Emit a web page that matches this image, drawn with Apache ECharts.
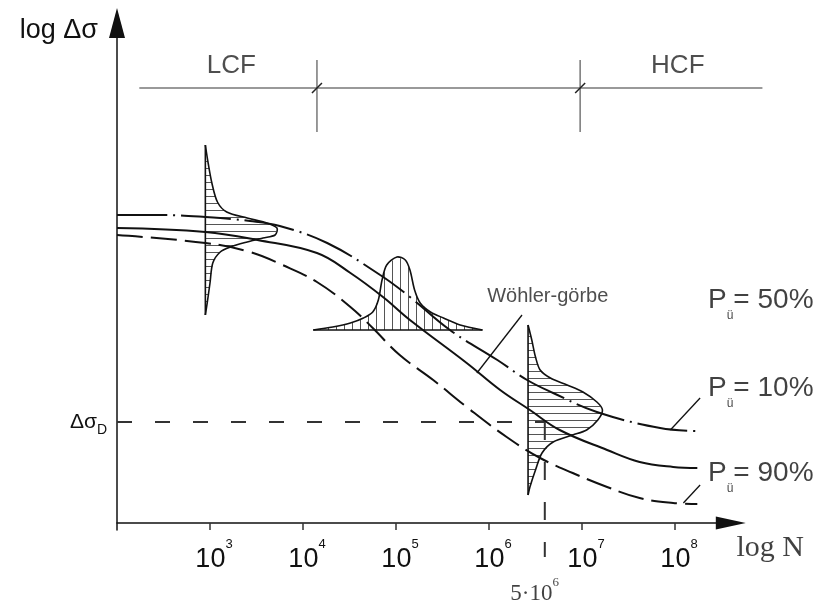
<!DOCTYPE html>
<html lang="hu">
<head>
  <meta charset="UTF-8" />
  <title>Wöhler-görbe</title>
  <script src="https://cdn.jsdelivr.net/npm/echarts@6.0.0/dist/echarts.min.js"></script>
  <style>
    body { margin: 0; background: #fff; overflow: hidden; }
    #main { width: 822px; height: 608px; }
  </style>
</head>
<body>
  <div id="main"></div>
  <script>
    const chart = echarts.init(document.getElementById('main'));

    // x = log N, y = log Δσ (schematic units)
    const decades = [3, 4, 5, 6, 7, 8];
    const exceedance = [50, 10, 90];

    const p10Curve = [[2.00, 6.16], [2.46, 6.16], [2.95, 6.12], [3.43, 6.04], [3.75, 5.94], [4.26, 5.60],
      [4.83, 4.96], [5.15, 4.52], [5.58, 3.86], [6.09, 3.26], [6.41, 2.86], [6.69, 2.60], [7.16, 2.22],
      [7.84, 1.90], [8.24, 1.84]];
    const p50Curve = [[2.00, 5.90], [2.95, 5.82], [3.51, 5.66], [4.15, 5.40], [4.51, 5.00], [4.86, 4.52],
      [5.15, 4.06], [5.76, 3.20], [6.12, 2.66], [6.44, 2.26], [6.76, 1.86], [7.27, 1.46], [7.62, 1.22],
      [7.98, 1.12], [8.24, 1.10]];
    const p90Curve = [[2.00, 5.76], [2.95, 5.60], [3.43, 5.42], [3.78, 5.16], [4.15, 4.82], [4.51, 4.32],
      [4.75, 3.90], [5.04, 3.36], [5.40, 2.86], [5.76, 2.32], [6.19, 1.72], [6.55, 1.30], [6.90, 1.00],
      [7.27, 0.72], [7.62, 0.50], [7.98, 0.40], [8.24, 0.38]];

    // scatter distributions (outline, baseline = first/last point)
    const distLow = [[2.95, 7.56], [2.98, 7.20], [3.02, 6.80], [3.08, 6.42], [3.18, 6.22], [3.40, 6.10],
      [3.61, 6.00], [3.72, 5.90], [3.70, 5.76], [3.57, 5.70], [3.40, 5.62], [3.22, 5.52], [3.11, 5.42],
      [3.03, 5.20], [3.00, 4.80], [2.97, 4.40], [2.95, 4.16]];
    const distMid = [[4.11, 3.86], [4.32, 3.92], [4.51, 4.00], [4.65, 4.10], [4.75, 4.22], [4.81, 4.46],
      [4.85, 4.86], [4.90, 5.16], [5.01, 5.32], [5.10, 5.26], [5.15, 5.06], [5.20, 4.66], [5.26, 4.40],
      [5.37, 4.22], [5.51, 4.10], [5.69, 3.96], [5.93, 3.86]];
    const distHigh = [[6.42, 3.96], [6.46, 3.66], [6.50, 3.32], [6.55, 3.06], [6.66, 2.90], [6.84, 2.76],
      [7.01, 2.62], [7.16, 2.42], [7.22, 2.26], [7.17, 2.06], [7.05, 1.86], [6.90, 1.76], [6.69, 1.62],
      [6.57, 1.40], [6.50, 1.06], [6.44, 0.72], [6.42, 0.56]];

    const enduranceLimit = 2.02;   // Δσ_D
    const kneeLogN = 6.60;         // 5·10^6 on the sketch
    const kneeLineBottom = -0.68;
    const regimeLine = [[2.24, 8.70], [8.94, 8.70]];
    const regimeBounds = [[4.15, 9.26, 7.82], [6.98, 9.26, 7.82]];
    const leaders = [
      [[5.87, 3.00], [6.355, 4.16]],
      [[7.95, 1.86], [8.27, 2.50]],
      [[8.09, 0.40], [8.27, 0.76]]
    ];

    // text anchors (data coords)
    const labelAnchors = {
      lcf: [3.23, 9.14], hcf: [8.03, 9.14], wohler: [5.98, 4.54],
      p: [[8.355, 4.46], [8.355, 2.70], [8.355, 1.00]],
      knee: [6.49, -1.42], logN: [8.66, -0.50]
    };

    const sans = '"Liberation Sans", Arial, sans-serif';
    const narrow = '"Liberation Sans Narrow", "Liberation Sans", Arial, sans-serif';
    const serif = '"Liberation Serif", "Times New Roman", serif';
    const ink = '#111';

    const rich = {
      reg: { fontSize: 26, fontFamily: sans, color: '#222' },
      w: { fontSize: 20, fontFamily: sans, color: '#222' },
      p: { fontSize: 28, fontFamily: sans, color: ink, lineHeight: 44 },
      s: { fontSize: 12, fontFamily: sans, color: ink, lineHeight: 12, verticalAlign: 'bottom' },
      n: { fontSize: 23, fontFamily: serif, color: ink, lineHeight: 36 },
      ns: { fontSize: 13, fontFamily: serif, color: ink, lineHeight: 13, verticalAlign: 'top' },
      ax: { fontSize: 30, fontFamily: serif, color: ink }
    };

    function hatch(vertical, step) {
      const c = document.createElement('canvas');
      c.width = vertical ? step : 4;
      c.height = vertical ? 4 : step;
      const ctx = c.getContext('2d');
      ctx.fillStyle = '#555';
      if (vertical) ctx.fillRect(0, 0, 1, 4);
      else ctx.fillRect(0, 0, 4, 1);
      return c;
    }

    function distSeries(points, pattern) {
      return {
        type: 'custom', data: points, silent: true, z: 3,
        renderItem: (params, api) => {
          if (params.dataIndex !== 0) return null;
          const pts = points.map(p => api.coord(p));
          const a = pts[0], b = pts[pts.length - 1];
          return {
            type: 'group',
            children: [
              { type: 'polygon', shape: { points: pts }, style: { fill: { image: pattern, repeat: 'repeat' }, stroke: null } },
              { type: 'polyline', shape: { points: pts, smooth: 0.3 }, style: { stroke: ink, lineWidth: 1.6, fill: null } },
              { type: 'line', shape: { x1: a[0], y1: a[1], x2: b[0], y2: b[1] }, style: { stroke: ink, lineWidth: 1.6 } }
            ]
          };
        }
      };
    }

    function curve(data, type) {
      return {
        type: 'line', data, smooth: 0.4, symbol: 'none', silent: true, z: 4,
        lineStyle: { color: ink, width: 2, type }
      };
    }

    const notes = [
      { value: labelAnchors.lcf, label: { formatter: '{reg|LCF}' } },
      { value: labelAnchors.hcf, label: { formatter: '{reg|HCF}' } },
      { value: labelAnchors.wohler, label: { formatter: '{w|Wöhler-görbe}', align: 'left' } },
      ...exceedance.map((pct, i) => ({
        value: labelAnchors.p[i],
        label: { formatter: '{p|P}{s|ü}{p|= ' + pct + '%}', align: 'left' }
      })),
      { value: labelAnchors.knee, label: { formatter: '{n|5·10}{ns|6}' } },
      { value: labelAnchors.logN, label: { formatter: '{ax|log N}', align: 'left' } }
    ];

    const option = {
      animation: false,
      backgroundColor: '#fff',
      grid: { left: 117, right: 91.2, top: 23, bottom: 78, outerBoundsMode: 'none' },
      xAxis: {
        type: 'value', min: 2, max: 8.6,
        axisLine: { show: true, onZero: true, symbol: ['none', 'triangle'], symbolSize: [13, 30], lineStyle: { color: ink, width: 1.5 } },
        axisTick: { show: true, customValues: decades, length: 7, lineStyle: { color: '#333', width: 1.5 } },
        axisLabel: {
          customValues: decades, margin: 8,
          formatter: v => '{b|10}{s|' + v + '}',
          rich: {
            b: { fontSize: 27, fontFamily: narrow, color: ink, lineHeight: 44, padding: [0, 0, 0, 8] },
            s: { fontSize: 13, fontFamily: sans, color: ink, lineHeight: 13, verticalAlign: 'top' }
          }
        },
        splitLine: { show: false }
      },
      yAxis: {
        type: 'value', min: -0.14, max: 10,
        name: 'log Δσ', nameLocation: 'end', nameGap: -8,
        nameTextStyle: { fontFamily: sans, fontSize: 27, color: ink, align: 'right', verticalAlign: 'middle', padding: [0, 19, 0, 0] },
        axisLine: { show: true, symbol: ['none', 'triangle'], symbolSize: [16, 30], lineStyle: { color: ink, width: 1.5 } },
        axisTick: { show: false },
        axisLabel: {
          customValues: [enduranceLimit], margin: 10,
          formatter: () => '{a|Δσ}{b|D}',
          rich: {
            a: { fontSize: 21, fontFamily: sans, color: ink, lineHeight: 30 },
            b: { fontSize: 14, fontFamily: sans, color: ink, lineHeight: 14, verticalAlign: 'bottom' }
          }
        },
        splitLine: { show: false }
      },
      series: [
        curve(p10Curve, [50, 6, 2, 6]),
        curve(p50Curve, 'solid'),
        curve(p90Curve, [26, 8]),
        {
          type: 'line', data: [[2, enduranceLimit], [kneeLogN, enduranceLimit]], symbol: 'none', silent: true,
          lineStyle: { color: '#333', width: 2, type: [15, 23] }
        },
        {
          type: 'line', data: [[kneeLogN, enduranceLimit], [kneeLogN, kneeLineBottom]], symbol: 'none', silent: true, clip: false,
          lineStyle: { color: '#333', width: 2, type: [18, 22] }
        },
        {
          // LCF / HCF regime bar with its two boundary marks
          type: 'custom', data: regimeBounds, silent: true, z: 3,
          renderItem: (params, api) => {
            const x = api.value(0);
            const top = api.coord([x, api.value(1)]);
            const bot = api.coord([x, api.value(2)]);
            const mid = api.coord([x, regimeLine[0][1]]);
            const children = [
              { type: 'line', shape: { x1: top[0], y1: top[1], x2: bot[0], y2: bot[1] }, style: { stroke: '#777', lineWidth: 1.5 } },
              { type: 'line', shape: { x1: mid[0] - 5, y1: mid[1] + 5, x2: mid[0] + 5, y2: mid[1] - 5 }, style: { stroke: '#222', lineWidth: 1.5 } }
            ];
            if (params.dataIndex === 0) {
              const a = api.coord(regimeLine[0]), b = api.coord(regimeLine[1]);
              children.unshift({ type: 'line', shape: { x1: a[0], y1: a[1], x2: b[0], y2: b[1] }, style: { stroke: '#777', lineWidth: 1.5 } });
            }
            return { type: 'group', children };
          }
        },
        ...leaders.map(seg => ({
          type: 'line', data: seg, symbol: 'none', silent: true,
          lineStyle: { color: ink, width: 1.3 }
        })),
        distSeries(distLow, hatch(false, 7)),
        distSeries(distMid, hatch(true, 8)),
        distSeries(distHigh, hatch(false, 7)),
        {
          type: 'scatter', data: notes, symbolSize: 1, clip: false, silent: true, z: 6,
          itemStyle: { color: 'rgba(0,0,0,0)' },
          label: { show: true, position: 'inside', rich }
        }
      ]
    };

    chart.setOption(option);
  </script>
</body>
</html>
